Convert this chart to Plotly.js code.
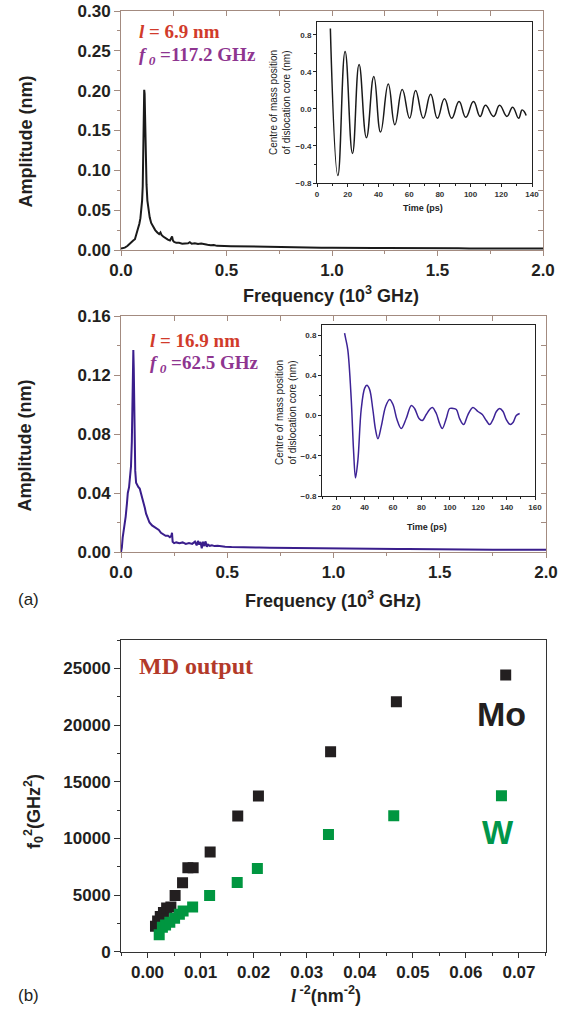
<!DOCTYPE html>
<html>
<head>
<meta charset="utf-8">
<script src="https://cdn.plot.ly/plotly-3.0.1.min.js"></script>
<style>html,body{margin:0;padding:0;background:#fff;}#chart{width:577px;height:1012px;}</style>
</head>
<body>
<div id="chart"></div>
<script>
// ---------------- DATA ----------------
// (a) top: FFT spectrum, l = 6.9 nm  [frequency (10^3 GHz), amplitude (nm)]
const spectrumTop = [
 [0,0.002],[0.008,0.0025],[0.018,0.003],[0.030,0.005],[0.040,0.008],[0.050,0.0105],[0.058,0.012],[0.066,0.0135],
 [0.074,0.020],[0.081,0.027],[0.087,0.033],[0.092,0.040],[0.096,0.048],[0.100,0.062],[0.103,0.080],[0.106,0.115],
 [0.108,0.160],[0.110,0.201],[0.112,0.196],[0.114,0.170],[0.116,0.140],[0.118,0.110],[0.121,0.082],[0.125,0.062],
 [0.130,0.050],[0.136,0.041],[0.143,0.034],[0.152,0.029],[0.162,0.025],[0.172,0.022],[0.181,0.020],[0.187,0.022],
 [0.192,0.019],[0.200,0.017],[0.210,0.015],[0.222,0.013],[0.232,0.012],[0.238,0.016],[0.242,0.017],[0.246,0.012],
 [0.252,0.010],[0.262,0.009],[0.275,0.009],[0.290,0.008],[0.305,0.0078],[0.318,0.0085],[0.326,0.0098],[0.335,0.0078],
 [0.350,0.0085],[0.365,0.0075],[0.380,0.0082],[0.395,0.0070],[0.410,0.0065],[0.425,0.0060],[0.440,0.0062],[0.455,0.0052],
 [0.47,0.0055],[0.49,0.0050],[0.52,0.0048],[0.55,0.0046],[0.58,0.0044],[0.62,0.0042],[0.66,0.0040],[0.70,0.0037],
 [0.75,0.0036],[0.80,0.0033],[0.85,0.0030],[0.90,0.0031],[0.95,0.0028],[1.00,0.0029],[1.05,0.0026],[1.10,0.0027],
 [1.15,0.0025],[1.20,0.0026],[1.25,0.0024],[1.30,0.0025],[1.35,0.0023],[1.40,0.0024],[1.45,0.0022],[1.50,0.0023],
 [1.55,0.0021],[1.60,0.0022],[1.65,0.0020],[1.70,0.0021],[1.75,0.0019],[1.80,0.0020],[1.85,0.0019],[1.90,0.0019],
 [1.95,0.0018],[2.00,0.0018]
];
// (a) top inset: centre of mass position vs time [ps, nm]
const timeTop = [8.7,13.6,18.3,23.1,27.4,32.2,37.0,41.4,46.4,50.7,55.5,60.3,64.2,69.2,74.0,78.4,83.0,87.7,92.5,96.9,101.9,106.2,109.7,115.0,118.9,123.7,127.4,131.3,133.5,135.0,136.2];
const posTop  = [0.87,-0.72,0.62,-0.48,0.48,-0.31,0.35,-0.25,0.27,-0.17,0.21,-0.10,0.20,-0.10,0.16,-0.10,0.11,-0.10,0.08,-0.09,0.08,-0.08,0.04,-0.08,0.04,-0.08,0.02,-0.10,-0.01,-0.03,-0.07];

// (a) middle: FFT spectrum, l = 16.9 nm
const spectrumMid = [
 [0,0],[0.004,0.003],[0.008,0.010],[0.011,0.013],[0.016,0.017],[0.022,0.024],[0.028,0.033],[0.032,0.040],
 [0.038,0.044],[0.043,0.050],[0.047,0.058],[0.051,0.075],[0.054,0.100],[0.056,0.125],[0.058,0.137],[0.060,0.125],
 [0.062,0.100],[0.064,0.075],[0.067,0.055],[0.071,0.047],[0.076,0.045],[0.082,0.044],[0.088,0.043],[0.094,0.040],
 [0.100,0.036],[0.106,0.033],[0.112,0.030],[0.118,0.026],[0.126,0.023],[0.134,0.020],[0.146,0.018],[0.158,0.017],
 [0.168,0.016],[0.178,0.015],[0.188,0.013],[0.197,0.012],[0.210,0.011],[0.221,0.011],[0.230,0.010],[0.237,0.011],
 [0.240,0.013],[0.243,0.007],[0.250,0.006],[0.260,0.0065],[0.275,0.006],[0.290,0.0065],[0.305,0.0055],[0.320,0.006],
 [0.335,0.0055],[0.348,0.007],[0.356,0.0045],[0.362,0.0075],[0.368,0.005],[0.374,0.0068],[0.380,0.0025],[0.386,0.0070],
 [0.392,0.0040],[0.398,0.0072],[0.404,0.0035],[0.410,0.0050],[0.418,0.0042],[0.428,0.0045],[0.440,0.0040],[0.455,0.0042],
 [0.47,0.0038],[0.49,0.0036],[0.52,0.0034],[0.55,0.0032],[0.60,0.0031],[0.65,0.0030],[0.70,0.0029],[0.75,0.0028],
 [0.80,0.0026],[0.85,0.0025],[0.90,0.0024],[0.95,0.0024],[1.00,0.0023],[1.05,0.0023],[1.10,0.0022],[1.15,0.0022],
 [1.20,0.0021],[1.25,0.0021],[1.30,0.0020],[1.35,0.0020],[1.40,0.0019],[1.45,0.0019],[1.50,0.0018],[1.55,0.0018],
 [1.60,0.0018],[1.65,0.0017],[1.70,0.0017],[1.75,0.0016],[1.80,0.0016],[1.85,0.0016],[1.90,0.0015],[1.95,0.0015],[2.00,0.0015]
];
// (a) middle inset
const timeMid = [25.9,26.6,28.2,30.6,32.2,33.6,35.3,37.6,40.0,41.6,43.5,45.8,47.7,49.4,51.7,54.8,57.6,60.0,62.8,65.8,69.3,72.9,75.2,78.3,80.6,83.4,85.8,87.7,90.5,92.8,94.7,97.5,99.9,102.2,104.6,106.9,109.7,112.8,116.3,119.8,122.9,125.7,128.1,130.4,132.8,135.1,137.5,139.8,142.6,144.5,146.8,149.2];
const posMid  = [0.82,0.77,0.65,0.16,-0.34,-0.62,-0.44,0.06,0.27,0.30,0.26,0.06,-0.14,-0.23,-0.11,0.09,0.16,0.11,-0.04,-0.13,-0.03,0.10,0.07,-0.03,-0.05,0.01,0.06,0.08,0.02,-0.08,-0.13,-0.03,0.07,0.07,0.06,-0.03,-0.09,0.01,0.08,0.04,0.01,-0.05,-0.09,-0.04,0.04,0.07,0.04,-0.04,-0.09,-0.07,0.00,0.02];

// (b): f0^2 vs l^-2
const moX = [0.0015,0.0019,0.0024,0.0030,0.0036,0.0044,0.0052,0.0066,0.0076,0.0086,0.0118,0.0170,0.0209,0.0345,0.0469,0.0675];
const moY = [2250,2700,3100,3450,3850,3950,4950,6090,7400,7400,8800,11970,13735,17640,22050,24410];
const wX  = [0.0022,0.0028,0.0034,0.0042,0.0051,0.0060,0.0067,0.0085,0.0117,0.0169,0.0207,0.0341,0.0464,0.0667];
const wY  = [1500,2150,2350,2600,2950,3300,3600,3950,4950,6100,7350,10350,12000,13760];

// ---------------- STYLE ----------------
const W = 577, H = 1012;
const px = v => v / W;
const py = v => 1 - v / H;
const SANS = 'Liberation Sans, Arial, sans-serif';
const SERIF = 'Liberation Serif, Times New Roman, serif';
const FRAME = '#a38b80';
const INK = '#231f20';
const RED = '#d13b2b', PURPLE = '#8e3590';

const tickFontMain = {family: SANS, size: 17, color: INK, weight: 'bold'};
const tickFontInset = {family: SANS, size: 8, color: '#333', weight: 'bold'};

function mainAxis(o) {
  return Object.assign({
    showline: true, linewidth: 1, mirror: true, zeroline: false, showgrid: false,
    ticks: 'outside', ticklen: 5, tickwidth: 1, tickfont: tickFontMain
  }, o);
}
function mirrorAxis(o) {
  return Object.assign({
    showline: false, zeroline: false, showgrid: false, showticklabels: false,
    ticks: 'inside', ticklen: 5, tickwidth: 1, tickcolor: FRAME
  }, o);
}
function insetAxis(o) {
  return Object.assign({
    showline: true, linewidth: 1, linecolor: '#222', mirror: true, zeroline: false, showgrid: false,
    ticks: 'outside', ticklen: 3, tickwidth: 1, tickcolor: '#222', tickfont: tickFontInset
  }, o);
}

const traces = [
  {type: 'scatter', mode: 'lines', x: spectrumTop.map(p => p[0]), y: spectrumTop.map(p => p[1]),
   xaxis: 'x', yaxis: 'y', line: {color: '#1a1a1a', width: 2}, hoverinfo: 'skip'},
  {type: 'scatter', mode: 'lines', x: [], y: [], xaxis: 'x6', yaxis: 'y6', hoverinfo: 'skip'},
  {type: 'scatter', mode: 'lines', x: timeTop, y: posTop, xaxis: 'x2', yaxis: 'y2',
   line: {color: '#1a1a1a', width: 1.5, shape: 'spline', smoothing: 1.3}, hoverinfo: 'skip'},
  {type: 'scatter', mode: 'lines', x: spectrumMid.map(p => p[0]), y: spectrumMid.map(p => p[1]),
   xaxis: 'x3', yaxis: 'y3', line: {color: '#3a1e8c', width: 2}, hoverinfo: 'skip'},
  {type: 'scatter', mode: 'lines', x: [], y: [], xaxis: 'x7', yaxis: 'y7', hoverinfo: 'skip'},
  {type: 'scatter', mode: 'lines', x: timeMid, y: posMid, xaxis: 'x4', yaxis: 'y4',
   line: {color: '#3d2396', width: 1.5, shape: 'spline', smoothing: 1}, hoverinfo: 'skip'},
  {type: 'scatter', mode: 'markers', x: moX, y: moY, xaxis: 'x5', yaxis: 'y5',
   marker: {symbol: 'square', size: 11, color: INK}, hoverinfo: 'skip'},
  {type: 'scatter', mode: 'markers', x: wX, y: wY, xaxis: 'x5', yaxis: 'y5',
   marker: {symbol: 'square', size: 11, color: '#009640'}, hoverinfo: 'skip'}
];

function ann(text, x, y, font, extra) {
  return Object.assign({text: text, x: px(x), y: py(y), xref: 'paper', yref: 'paper',
    showarrow: false, xanchor: 'center', yanchor: 'middle', font: font}, extra || {});
}
const titleFont = {family: SANS, size: 18, color: INK, weight: 'bold'};
const insetTitleFont = {family: SANS, size: 10, color: '#222'};

const annotations = [
  ann('<i>l</i> = 6.9 nm', 137, 31, {family: SERIF, size: 19, color: RED, weight: 'bold'}, {xanchor: 'left'}),
  ann('<i>f</i><sub><i> 0</i></sub> =117.2 GHz', 137, 56, {family: SERIF, size: 19, color: PURPLE, weight: 'bold'}, {xanchor: 'left'}),
  ann('<i>l</i> = 16.9 nm', 148, 340, {family: SERIF, size: 19, color: RED, weight: 'bold'}, {xanchor: 'left'}),
  ann('<i>f</i><sub><i> 0</i></sub> =62.5 GHz', 148, 364, {family: SERIF, size: 19, color: PURPLE, weight: 'bold'}, {xanchor: 'left'}),
  ann('MD output', 137, 666, {family: SERIF, size: 24, color: '#b33a2a', weight: 'bold'}, {xanchor: 'left'}),
  ann('Mo', 501, 714, {family: SANS, size: 34, color: INK, weight: 'bold'}),
  ann('W', 498, 832, {family: SANS, size: 33, color: '#00964a', weight: 'bold'}),
  ann('Amplitude (nm)', 25.5, 142, titleFont, {textangle: -90}),
  ann('Frequency (10<sup>3</sup> GHz)', 331, 294, titleFont),
  ann('Amplitude (nm)', 24.5, 446, titleFont, {textangle: -90}),
  ann('Frequency (10<sup>3</sup> GHz)', 333, 599, titleFont),
  ann('f<sub>0</sub><sup>2</sup>(GHz<sup>2</sup>)', 33, 812, titleFont, {textangle: -90}),
  ann('<span style="font-family:Liberation Serif;font-style:italic">l</span><sup> -2</sup>(nm<sup>-2</sup>)', 326, 994, titleFont),
  ann('Centre of mass position<br>of dislocation core (nm)', 280, 103, insetTitleFont, {textangle: -90}),
  ann('Centre of mass position<br>of dislocation core (nm)', 286, 413, insetTitleFont, {textangle: -90}),
  ann('Time (ps)', 423, 208, {family: SANS, size: 9, color: '#222', weight: 'bold'}),
  ann('Time (ps)', 427, 527, {family: SANS, size: 9, color: '#222', weight: 'bold'}),
  ann('(a)', 28, 599, {family: SANS, size: 17, color: INK}),
  ann('(b)', 28, 995, {family: SANS, size: 17, color: INK})
];

const layout = {
  width: W, height: H, margin: {l: 0, r: 0, t: 0, b: 0},
  paper_bgcolor: '#ffffff', plot_bgcolor: '#ffffff', showlegend: false,
  // top spectrum
  xaxis: mainAxis({domain: [px(121), px(543)], anchor: 'y', range: [0, 2], dtick: 0.5, tick0: 0, tickformat: '.1f',
    linecolor: FRAME, tickcolor: FRAME,
    minor: {ticks: 'outside', ticklen: 3, dtick: 0.25, tick0: 0, tickcolor: FRAME, showgrid: false}}),
  yaxis: mainAxis({domain: [py(250), py(11)], anchor: 'x', range: [0, 0.30], dtick: 0.05, tick0: 0, tickformat: '.2f',
    linecolor: FRAME, tickcolor: FRAME, ticklen: 6,
    minor: {ticks: 'outside', ticklen: 3, dtick: 0.025, tick0: 0, tickcolor: FRAME, showgrid: false}}),
  xaxis6: mirrorAxis({overlaying: 'x', anchor: 'y6', side: 'top', range: [0, 2], dtick: 0.25, tick0: 0}),
  yaxis6: mirrorAxis({overlaying: 'y', anchor: 'x6', side: 'right', range: [0, 0.30], dtick: 0.025, tick0: 0}),
  // top inset
  xaxis2: insetAxis({domain: [px(317), px(532)], anchor: 'y2', range: [0, 140], dtick: 20, tick0: 0,
    minor: {ticks: 'outside', ticklen: 2, dtick: 10, tick0: 0, tickcolor: '#222', showgrid: false}}),
  yaxis2: insetAxis({domain: [py(183), py(22)], anchor: 'x2', range: [-0.8, 0.94], dtick: 0.4, tick0: 0, tickformat: '.1f',
    minor: {ticks: 'outside', ticklen: 2, dtick: 0.2, tick0: 0, tickcolor: '#222', showgrid: false}}),
  // middle spectrum
  xaxis3: mainAxis({domain: [px(121), px(546)], anchor: 'y3', range: [0, 2], dtick: 0.5, tick0: 0, tickformat: '.1f',
    linecolor: FRAME, tickcolor: FRAME,
    minor: {ticks: 'outside', ticklen: 3, dtick: 0.25, tick0: 0, tickcolor: FRAME, showgrid: false}}),
  yaxis3: mainAxis({domain: [py(552), py(316)], anchor: 'x3', range: [0, 0.16], dtick: 0.04, tick0: 0, tickformat: '.2f',
    linecolor: FRAME, tickcolor: FRAME, ticklen: 6,
    minor: {ticks: 'outside', ticklen: 3, dtick: 0.02, tick0: 0, tickcolor: FRAME, showgrid: false}}),
  xaxis7: mirrorAxis({overlaying: 'x3', anchor: 'y7', side: 'top', range: [0, 2], dtick: 0.25, tick0: 0}),
  yaxis7: mirrorAxis({overlaying: 'y3', anchor: 'x7', side: 'right', range: [0, 0.16], dtick: 0.02, tick0: 0}),
  // middle inset
  xaxis4: insetAxis({domain: [px(322), px(535)], anchor: 'y4', range: [10, 160], dtick: 20, tick0: 0,
    minor: {ticks: 'outside', ticklen: 2, dtick: 10, tick0: 0, tickcolor: '#222', showgrid: false}}),
  yaxis4: insetAxis({domain: [py(496), py(325)], anchor: 'x4', range: [-0.8, 0.9], dtick: 0.4, tick0: 0, tickformat: '.1f',
    minor: {ticks: 'outside', ticklen: 2, dtick: 0.2, tick0: 0, tickcolor: '#222', showgrid: false}}),
  // (b)
  xaxis5: mainAxis({domain: [px(121), px(545.5)], anchor: 'y5', range: [-0.005, 0.075], dtick: 0.01, tick0: 0, tickformat: '.2f',
    linecolor: '#333', tickcolor: '#333',
    minor: {ticks: 'outside', ticklen: 3, dtick: 0.005, tick0: 0, tickcolor: '#333', showgrid: false}}),
  yaxis5: mainAxis({domain: [py(951.7), py(640)], anchor: 'x5', range: [0, 27500], dtick: 5000, tick0: 0, tickformat: 'd',
    linecolor: '#333', tickcolor: '#333', ticklen: 6,
    minor: {ticks: 'outside', ticklen: 3, dtick: 2500, tick0: 0, tickcolor: '#333', showgrid: false}}),
  annotations: annotations
};

Plotly.newPlot('chart', traces, layout, {staticPlot: true, displayModeBar: false});
</script>
</body>
</html>
